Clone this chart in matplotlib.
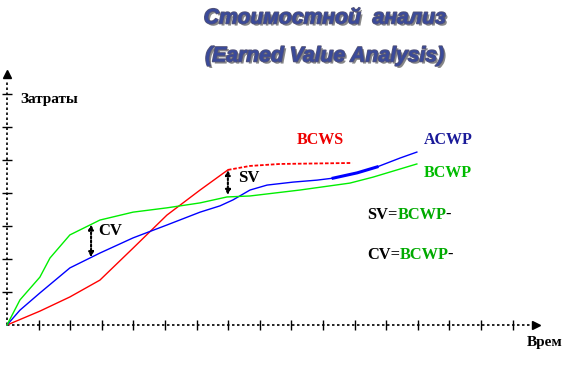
import matplotlib
matplotlib.use("Agg")
import matplotlib.pyplot as plt
import matplotlib.patheffects as pe
import numpy as np

# ---- data (time units, cost units) ----
bcws_x = [0, 1.04, 1.99, 2.94, 3.99, 5.06, 6.11, 6.99, 7.69, 8.64, 10.92]
bcws_y = [0, 0.42, 0.85, 1.36, 2.33, 3.33, 4.09, 4.70, 4.82, 4.88, 4.91]

acwp_x = [0, 0.41, 1.04, 1.99, 2.94, 3.99, 5.06, 6.11, 6.74, 7.15, 7.69, 8.23,
          9.05, 9.81, 10.32, 11.08, 11.71, 12.44, 12.97]
acwp_y = [0, 0.45, 0.97, 1.73, 2.18, 2.64, 3.03, 3.42, 3.61, 3.79, 4.09, 4.24,
          4.33, 4.39, 4.45, 4.61, 4.79, 5.06, 5.24]

bcwp_x = [0, 0.41, 1.04, 1.36, 1.99, 2.94, 3.99, 5.06, 6.11, 6.96, 7.69, 9.27,
          10.85, 11.58, 12.97]
bcwp_y = [0, 0.76, 1.45, 2.03, 2.73, 3.18, 3.42, 3.55, 3.70, 3.88, 3.91, 4.09,
          4.30, 4.48, 4.88]

x_ticks = list(range(1, 17))
y_ticks = list(range(1, 8))

sv_t, sv_top, sv_bot = 6.99, 4.70, 3.94
cv_t, cv_top, cv_bot = 2.66, 3.05, 2.05

title1 = "Стоимостной  анализ"
title2 = "(Earned Value Analysis)"

fig = plt.figure(figsize=(5.81, 3.65), dpi=100)
ax = fig.add_axes([0, 0, 1, 1])
ax.set_xlim(-7 / 31.6, 574 / 31.6)
ax.set_ylim(-40 / 33, 325 / 33)
ax.axis("off")

# axes (dotted with arrows)
x_end, y_end = 16.75, 7.62
ax.plot([0, x_end - 0.2], [0, 0], color="black", lw=1.2, ls=(0, (1.5, 1.5)))
ax.plot([0, 0], [0, y_end - 0.2], color="black", lw=1.2, ls=(0, (1.5, 1.5)))
ax.plot([x_end], [0], marker=">", color="black", ms=6, mec="black")
ax.plot([0], [y_end], marker="^", color="black", ms=6, mec="black")
ax.plot(x_ticks, [0] * len(x_ticks), ls="none", marker="|", ms=7, color="black", mew=1)
ax.plot([0] * len(y_ticks), y_ticks, ls="none", marker="_", ms=7, color="black", mew=1)

# curves
ax.plot(bcws_x[:8], bcws_y[:8], color="#ff0000", lw=1.0)
ax.plot(bcws_x[7:], bcws_y[7:], color="#ff0000", lw=1.3, ls=(0, (2, 1)))
ax.plot(acwp_x, acwp_y, color="#0000ff", lw=1.0)
ax.plot(acwp_x[14:17], acwp_y[14:17], color="#0000ff", lw=2.2)
ax.plot(bcwp_x, bcwp_y, color="#00ee00", lw=1.0)

# variance arrows
for t, top, bot in [(sv_t, sv_top, sv_bot), (cv_t, cv_top, cv_bot)]:
    ax.annotate("", xy=(t, top), xytext=(t, bot),
                arrowprops=dict(arrowstyle="<|-|>", color="black", lw=1.5,
                                ls=(0, (1, 1)), mutation_scale=7,
                                shrinkA=0, shrinkB=0))

serif = dict(family="Liberation Serif", fontweight="bold")
ax.text(7.3, 4.45, "SV", fontsize=12, va="center", ha="left", **serif)
ax.text(2.88, 2.85, "CV", fontsize=12, va="center", ha="left", **serif)

ax.text(9.18, 5.6, "BCWS", color="#ee0000", fontsize=11.5, va="center", **serif)
ax.text(13.2, 5.6, "ACWP", color="#1a1a99", fontsize=11.5, va="center", **serif)
ax.text(13.2, 4.6, "BCWP", color="#00bb00", fontsize=11.5, va="center", **serif)

renderer = fig.canvas.get_renderer()
inv = ax.transData.inverted()
for yy, lab in [(3.33, "SV="), (2.12, "CV=")]:
    t = ax.text(11.4, yy, lab, fontsize=11.8, va="center", **serif)
    bb = t.get_window_extent(renderer=renderer)
    x1 = inv.transform((bb.x1, bb.y0))[0]
    t2 = ax.text(x1, yy, "BCWP", color="#00aa00", fontsize=11.8, va="center", **serif)
    bb2 = t2.get_window_extent(renderer=renderer)
    x2 = inv.transform((bb2.x1 - 1.5, bb2.y0))[0]
    ax.text(x2, yy, "-", fontsize=11.8, va="center", **serif)

ax.text(0.42, 6.82, "Затраты", fontsize=11, va="center", ha="left", **serif)
ax.text(16.45, -0.54, "Врем", fontsize=11, va="center", ha="left", **serif)

# titles with shadow
teff = [pe.withSimplePatchShadow(offset=(1.5, -1.5), shadow_rgbFace="#888888", alpha=1.0),
        pe.Stroke(linewidth=1.2, foreground="#555577"), pe.Normal()]
fig.text(0.559, 1 - 18 / 365, title1, fontsize=15.2, fontweight="bold", style="italic",
         family="Liberation Sans", color="#3a4a9a", ha="center", va="center",
         path_effects=teff)
fig.text(0.559, 1 - 56 / 365, title2, fontsize=15.2, fontweight="bold", style="italic",
         family="Liberation Sans", color="#3a4a9a", ha="center", va="center",
         path_effects=teff)

fig.savefig("out.png", dpi=100)
